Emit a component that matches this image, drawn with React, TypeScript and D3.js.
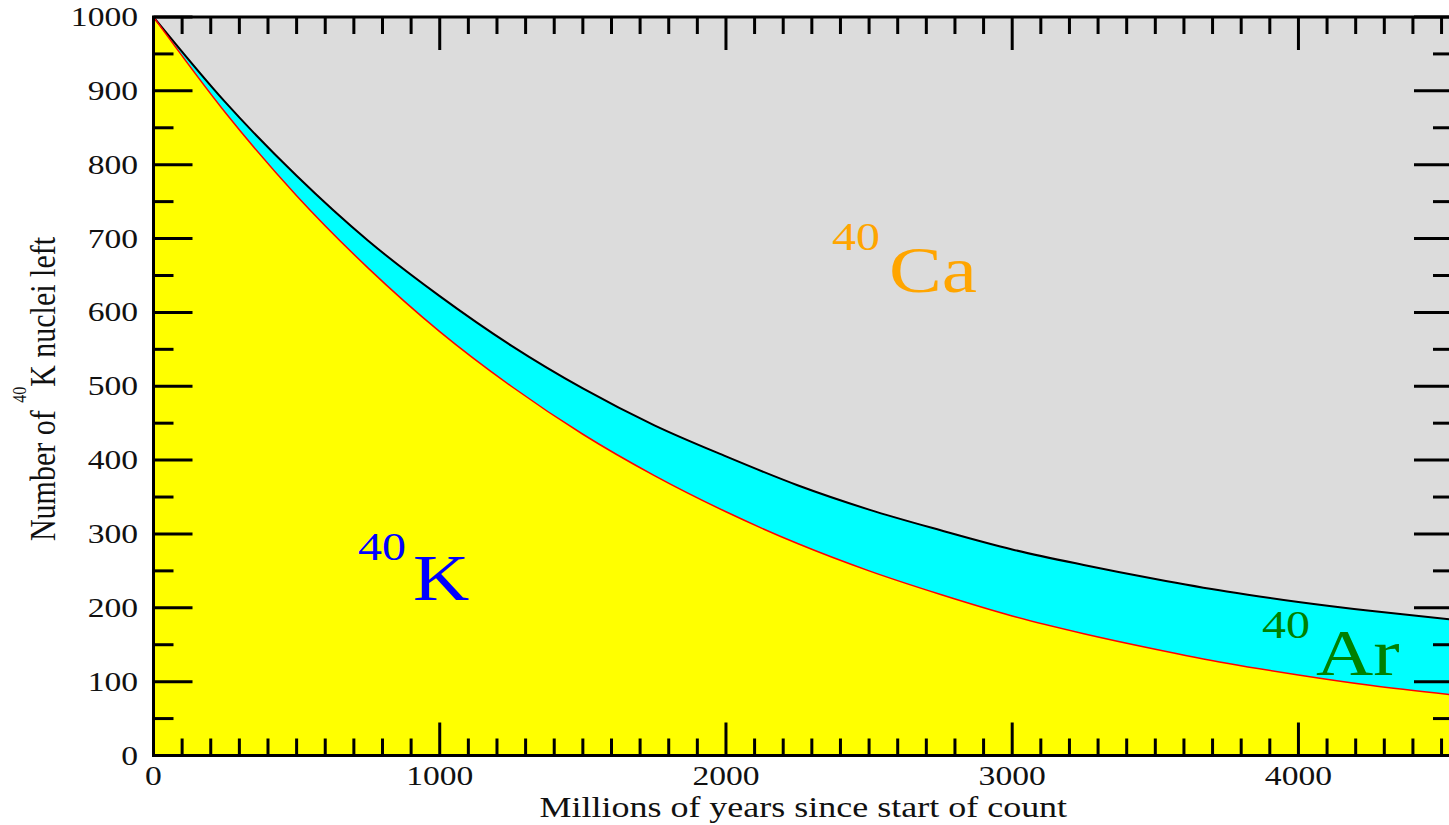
import React from "react";
import * as d3 from "d3";

// Time since start of count (millions of years)
const years = [0, 250, 500, 750, 1000, 1250, 1500, 1750, 2000, 2250, 2500, 2750, 3000, 3250, 3500, 3750, 4000, 4250, 4540];
// 40K nuclei remaining
const k40 = [1000, 871, 758, 660, 574, 500, 435, 379, 330, 287, 250, 218, 189, 165, 144, 125, 109, 95, 82];
// 40K + 40Ar (top of argon band); remainder above is 40Ca
const kPlusAr = [1000, 885, 785, 697, 622, 555, 497, 447, 405, 366, 333, 305, 279, 258, 239, 222, 208, 196, 184];

const xTickLabels = [0, 1000, 2000, 3000, 4000];
const yTickLabels = [0, 100, 200, 300, 400, 500, 600, 700, 800, 900, 1000];

const W = 1449;
const H = 825;
const left = 153.5;
const right = 1453;
const top = 17;
const bottom = 755.5;
const SX = 1.2;
const FONT = "'Liberation Serif', 'Times New Roman', serif";

export default function App() {
  const x = d3.scaleLinear().domain([0, 4540]).range([left, right]);
  const y = d3.scaleLinear().domain([0, 1000]).range([bottom, top]);
  const pts = years.map((t, i) => ({ t, k: k40[i], a: kPlusAr[i] }));

  const curve = d3.curveMonotoneX;
  const yellowArea = d3.area<any>().x((d) => x(d.t)).y0(y(0)).y1((d) => y(d.k)).curve(curve)(pts) || "";
  const cyanArea = d3.area<any>().x((d) => x(d.t)).y0((d) => y(d.k)).y1((d) => y(d.a)).curve(curve)(pts) || "";
  const redLine = d3.line<any>().x((d) => x(d.t)).y((d) => y(d.k)).curve(curve)(pts) || "";
  const blackLine = d3.line<any>().x((d) => x(d.t)).y((d) => y(d.a)).curve(curve)(pts) || "";

  const xMinor = d3.range(0, 4541, 100);
  const yMinor = d3.range(0, 1001, 50);

  const ticks: any[] = [];
  xMinor.forEach((v) => {
    const major = v % 1000 === 0;
    const len = major ? 33 : 17;
    const px = x(v);
    ticks.push(<line key={"xb" + v} x1={px} x2={px} y1={bottom} y2={bottom - len} stroke="#000" strokeWidth={3} />);
    ticks.push(<line key={"xt" + v} x1={px} x2={px} y1={top} y2={top + len} stroke="#000" strokeWidth={3} />);
  });
  yMinor.forEach((v) => {
    const major = v % 100 === 0;
    const len = major ? 39 : 20;
    const py = y(v);
    ticks.push(<line key={"yl" + v} x1={left} x2={left + len} y1={py} y2={py} stroke="#000" strokeWidth={3} />);
    ticks.push(<line key={"yr" + v} x1={right} x2={right - len} y1={py} y2={py} stroke="#000" strokeWidth={3} />);
  });

  const stretched = (key: string, px: number, py: number, content: any, size: number, fill: string, anchor: string = "start") => (
    <text
      key={key}
      transform={`translate(${px},${py}) scale(${SX},1)`}
      fontFamily={FONT}
      fontSize={size}
      fill={fill}
      textAnchor={anchor}
    >
      {content}
    </text>
  );

  return (
    <svg width={W} height={H} style={{ position: "absolute", left: 0, top: 0, display: "block", background: "#fff" }}>
      <defs>
        <clipPath id="plotClip">
          <rect x={left} y={top} width={right - left} height={bottom - top} />
        </clipPath>
      </defs>
      <g clipPath="url(#plotClip)">
        <rect x={left} y={top} width={right - left} height={bottom - top} fill="#dcdcdc" />
        <path d={cyanArea} fill="#00ffff" />
        <path d={yellowArea} fill="#ffff00" />
        <path d={blackLine} fill="none" stroke="#000" strokeWidth={2} />
        <path d={redLine} fill="none" stroke="#ff0000" strokeWidth={1.5} />
      </g>
      {ticks}
      <rect x={left} y={top} width={right - left} height={bottom - top} fill="none" stroke="#000" strokeWidth={3} />

      {yTickLabels.map((v) => stretched("yl" + v, 138, y(v) + 9, String(v), 28, "#111", "end"))}
      {xTickLabels.map((v) => stretched("xl" + v, x(v), 785, String(v), 28, "#111", "middle"))}

      {stretched("xtitle", (left + right) / 2, 817, "Millions of years since start of count", 30, "#111", "middle")}

      <text
        transform={`translate(55,389) rotate(-90) scale(1,${SX})`}
        fontFamily={FONT}
        fontSize={30}
        fill="#111"
        textAnchor="middle"
      >
        Number of <tspan fontSize={16} dy={-24}>40</tspan>
        <tspan dy={24}>K nuclei left</tspan>
      </text>

      {stretched("k40s", 358, 560, "40", 40, "#0000ff")}
      {stretched("k40", 413, 600, "K", 65, "#0000ff")}
      {stretched("ca40s", 832, 250, "40", 40, "#ffa500")}
      {stretched("ca40", 889, 292, "Ca", 66, "#ffa500")}
      {stretched("ar40s", 1262, 638, "40", 40, "#008000")}
      {stretched("ar40", 1316, 675, "Ar", 66, "#008000")}
    </svg>
  );
}
